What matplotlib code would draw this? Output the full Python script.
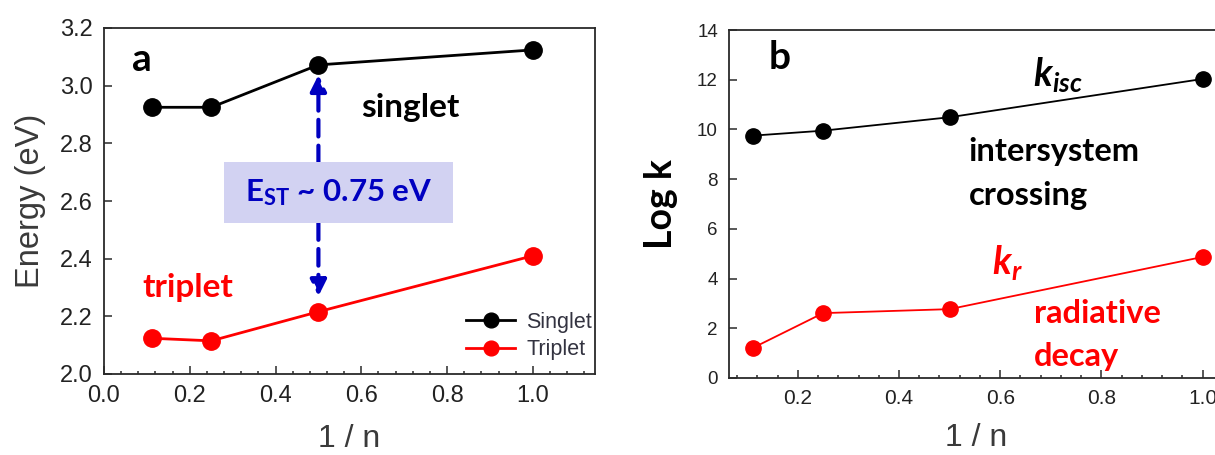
import numpy as np
import matplotlib
matplotlib.use('Agg')
import matplotlib.pyplot as plt
from matplotlib.patches import Rectangle
from matplotlib.ticker import MultipleLocator

plt.rcParams['font.family'] = ['Liberation Sans', 'DejaVu Sans']
plt.rcParams['mathtext.fontset'] = 'custom'
plt.rcParams['mathtext.rm'] = 'Lato'
plt.rcParams['mathtext.it'] = 'Lato:italic'
plt.rcParams['mathtext.bf'] = 'Lato:bold'
plt.rcParams['mathtext.bfit'] = 'Lato:bold:italic'

# data
inv_n = [1 / 9, 0.25, 0.5, 1.0]
singlet = [2.925, 2.925, 3.072, 3.124]
triplet = [2.124, 2.115, 2.216, 2.41]
log_kisc = [9.75, 9.95, 10.49, 12.03]
log_kr = [1.21, 2.61, 2.77, 4.87]

W, H = 1215, 455
fig = plt.figure(figsize=(W / 100, H / 100), dpi=100)

spine_col = '#2a2a2a'
tick_col = '#222222'
blue = '#0000c0'
red = '#ff0000'
anno = 'Lato'


def px_axes(l, t, r, b):
    return fig.add_axes([l / W, 1 - b / H, (r - l) / W, (b - t) / H])


def style_axes(ax, size):
    for s in ax.spines.values():
        s.set_linewidth(1.3)
        s.set_color(spine_col)
    ax.tick_params(which='major', direction='in', length=6, width=1.1,
                   labelsize=size, colors=spine_col, labelcolor=tick_col, pad=8)
    ax.tick_params(which='minor', direction='in', length=2.5, width=1.1, colors=spine_col)
    ax.tick_params(axis='y', which='minor', left=False)


# ---- panel a
ax1 = px_axes(104, 28, 595, 374)
ax1.plot(inv_n, singlet, '-o', color='black', lw=2.0, ms=12.5, label='Singlet')
ax1.plot(inv_n, triplet, '-o', color=red, lw=2.0, ms=12.5, label='Triplet')
ax1.set_xlim(0, 1.145)
ax1.set_ylim(2.0, 3.2)
ax1.set_xticks(np.arange(0, 1.01, 0.2))
ax1.set_yticks(np.arange(2.0, 3.21, 0.2))
ax1.xaxis.set_minor_locator(MultipleLocator(0.04))
ax1.xaxis.set_major_formatter(plt.FormatStrFormatter('%.1f'))
ax1.yaxis.set_major_formatter(plt.FormatStrFormatter('%.1f'))
style_axes(ax1, 17)
ax1.set_xlabel('1 / n', fontsize=23, color='#3a3a3a', labelpad=12)
ax1.set_ylabel('Energy (eV)', fontsize=23.5, color='#3a3a3a', labelpad=10)

leg = ax1.legend(loc='center left', bbox_to_anchor=(0.715, 0.11), frameon=False,
                 fontsize=15.5, handlelength=2.3, handletextpad=0.5, labelspacing=0.3,
                 borderpad=0, markerscale=0.85)
for t in leg.get_texts():
    t.set_color('#333340')

ax1.text(0.065, 3.09, 'a', fontsize=28, fontweight='bold', family=anno, va='center', ha='left')
ax1.text(0.6, 2.926, 'singlet', fontsize=24, fontweight='bold', family=anno, va='center', ha='left')
ax1.text(0.09, 2.30, 'triplet', fontsize=24, fontweight='bold', family=anno, color=red,
         va='center', ha='left')

ax1.annotate('', xy=(0.5, 3.037), xytext=(0.5, 2.27),
             arrowprops=dict(arrowstyle='<|-|>', color=blue, lw=3, linestyle=(0, (4, 2.2)),
                             mutation_scale=24, shrinkA=0, shrinkB=0))
ax1.add_patch(Rectangle((0.28, 2.524), 0.534, 0.211, facecolor='#d2d2f2', edgecolor='none', zorder=3))
ax1.text(0.547, 2.629, r'E$_{\mathbf{ST}}$ ~ 0.75 eV', fontsize=22.5, fontweight='bold', family=anno,
         color=blue, va='center', ha='center', zorder=4)

# ---- panel b
ax2 = px_axes(729, 30, 729 + 0.976 * 506, 378)
ax2.plot(inv_n, log_kisc, '-o', color='black', lw=1.3, ms=11)
ax2.plot(inv_n, log_kr, '-o', color=red, lw=1.3, ms=11)
ax2.set_xlim(0.064, 1.04)
ax2.set_ylim(0, 14)
ax2.set_xticks(np.arange(0.2, 1.01, 0.2))
ax2.set_yticks(np.arange(0, 15, 2))
ax2.xaxis.set_minor_locator(MultipleLocator(0.04))
ax2.xaxis.set_major_formatter(plt.FormatStrFormatter('%.1f'))
style_axes(ax2, 13.5)
ax2.tick_params(axis='x', labelsize=15)
ax2.set_xlabel('1 / n', fontsize=23, color='#3a3a3a', labelpad=11)
ax2.set_ylabel('Log k', fontsize=27, fontweight='bold', family=anno, labelpad=14)

ax2.text(0.143, 12.91, 'b', fontsize=28, fontweight='bold', family=anno, va='center', ha='left')
ax2.text(0.664, 12.19, r'$\mathbfit{k_{isc}}$', fontsize=27, va='center', ha='left')
ax2.text(0.538, 8.23, 'intersystem\ncrossing', fontsize=23.5, fontweight='bold', family=anno,
         va='center', ha='left', linespacing=1.6)
ax2.text(0.583, 4.63, r'$\mathbfit{k_r}$', fontsize=27, color=red, va='center', ha='left')
ax2.text(0.666, 1.73, 'radiative\ndecay', fontsize=23.5, fontweight='bold', family=anno, color=red,
         va='center', ha='left', linespacing=1.6)

fig.savefig('out.png', dpi=100)
